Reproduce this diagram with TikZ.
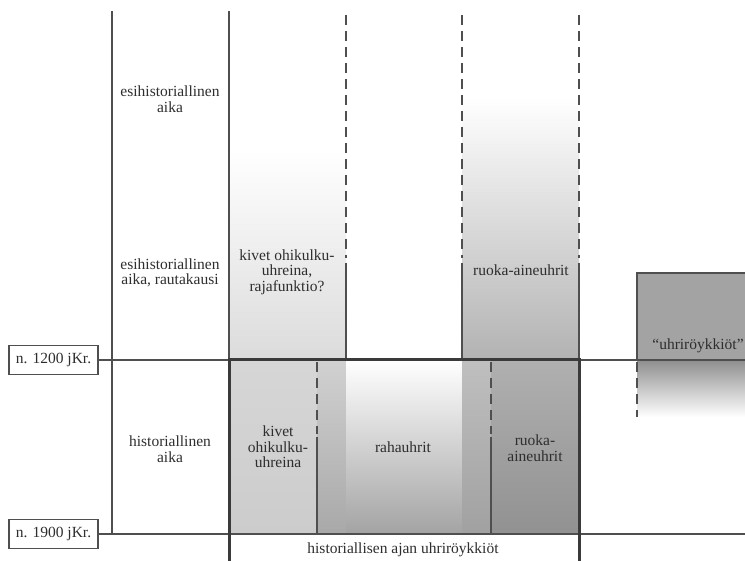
\documentclass[tikz,border=0pt]{standalone}
\usepackage{fontspec}
\setmainfont{Liberation Serif}
\usetikzlibrary{positioning}
\definecolor{linegray}{HTML}{4F4F4F}
\definecolor{framegray}{HTML}{3A3A3A}
\definecolor{textgray}{HTML}{2E2E2E}

\begin{document}
\begin{tikzpicture}[x=1pt,y=-1pt,
    thin line/.style={draw=linegray,line width=1.1pt},
    frame/.style={draw=framegray,line width=3pt},
    dashline/.style={draw=linegray,line width=1.1pt,dash pattern=on 10pt off 6pt},
    datebox/.style={draw=linegray,line width=1.1pt,minimum width=89pt,minimum height=29pt,inner sep=0pt},
    lbl/.style={text=textgray,align=center,inner sep=0pt,font=\fontsize{15.5}{15.5}\selectfont}]
    \useasboundingbox (0,0) rectangle (745,561);

    % fills, upper half
    \shade[top color=white,bottom color=white!86!black] (229,150) rectangle (346,360);
    \shade[top color=white,bottom color=white!70!black] (462,97) rectangle (579,360);
    % fills, historical time
    \shade[top color=white!84!black,bottom color=white!80!black] (229,360) rectangle (317,534);
    \shade[top color=white!82!black,bottom color=white!66!black] (317,360) rectangle (346,534);
    \shade[top color=white,bottom color=white!64!black] (346,360) rectangle (462,534);
    \shade[top color=white!75!black,bottom color=white!63!black] (462,360) rectangle (491,534);
    \shade[top color=white!69!black,bottom color=white!57!black] (491,360) rectangle (579,534);
    % fills, right box
    \fill[white!64!black] (637,273) rectangle (745,360);
    \shade[top color=white!56!black,bottom color=white] (637,360) rectangle (745,417);

    % date boxes
    \node[datebox,lbl] (Dat1200) at (53.5,360) {n. 1200 jKr.};
    \node[datebox,lbl] (Dat1900) at (53.5,534) {n. 1900 jKr.};

    \coordinate (End1200) at (745,360);
    \coordinate (End1900) at (745,534);

    % time lines
    \draw[thin line] (Dat1200.east) -- (End1200);
    \draw[thin line] (Dat1900.east) -- (End1900);

    % columns
    \draw[thin line] (112,11) -- (112,534);
    \draw[thin line] (229,11) -- (229,360);
    \foreach \x in {346,462,579} {
        \draw[dashline] (\x,15) -- (\x,258);
        \draw[thin line] (\x,263) -- (\x,360);
    }
    \foreach \x in {317,491} {
        \draw[dashline] (\x,362) -- (\x,434);
        \draw[thin line] (\x,437) -- (\x,534);
    }
    \draw[thin line] (637,360) -- (637,273) -- (745,273);
    \draw[dashline] (637,362) -- (637,417);

    % historical frame
    \draw[frame] (229,561) -- (229,360) -- (579,360) -- (579,561);

    % labels
    \node[lbl] (Esi)      at (170,99)  {esihistoriallinen\\aika};
    \node[lbl] (EsiRauta) at (170,273) {esihistoriallinen\\aika, rautakausi};
    \node[lbl] (Hist)     at (170,449) {historiallinen\\aika};
    \node[lbl] (KivRaja)  at (287,272) {kivet ohikulku-\\uhreina,\\rajafunktio?};
    \node[lbl] (RuoEsi)   at (521,270) {ruoka-aineuhrit};
    \node[lbl] (KivHist)  at (278,447) {kivet\\ohikulku-\\uhreina};
    \node[lbl] (Raha)     at (403,447) {rahauhrit};
    \node[lbl] (RuoHist)  at (535,448) {ruoka-\\aineuhrit};
    \node[lbl] (HistKiv)  at (403,550) {historiallisen ajan uhriröykkiöt};
    \node[lbl] (Kiv)      at (698,346) {“uhriröykkiöt”};
\end{tikzpicture}
\end{document}
